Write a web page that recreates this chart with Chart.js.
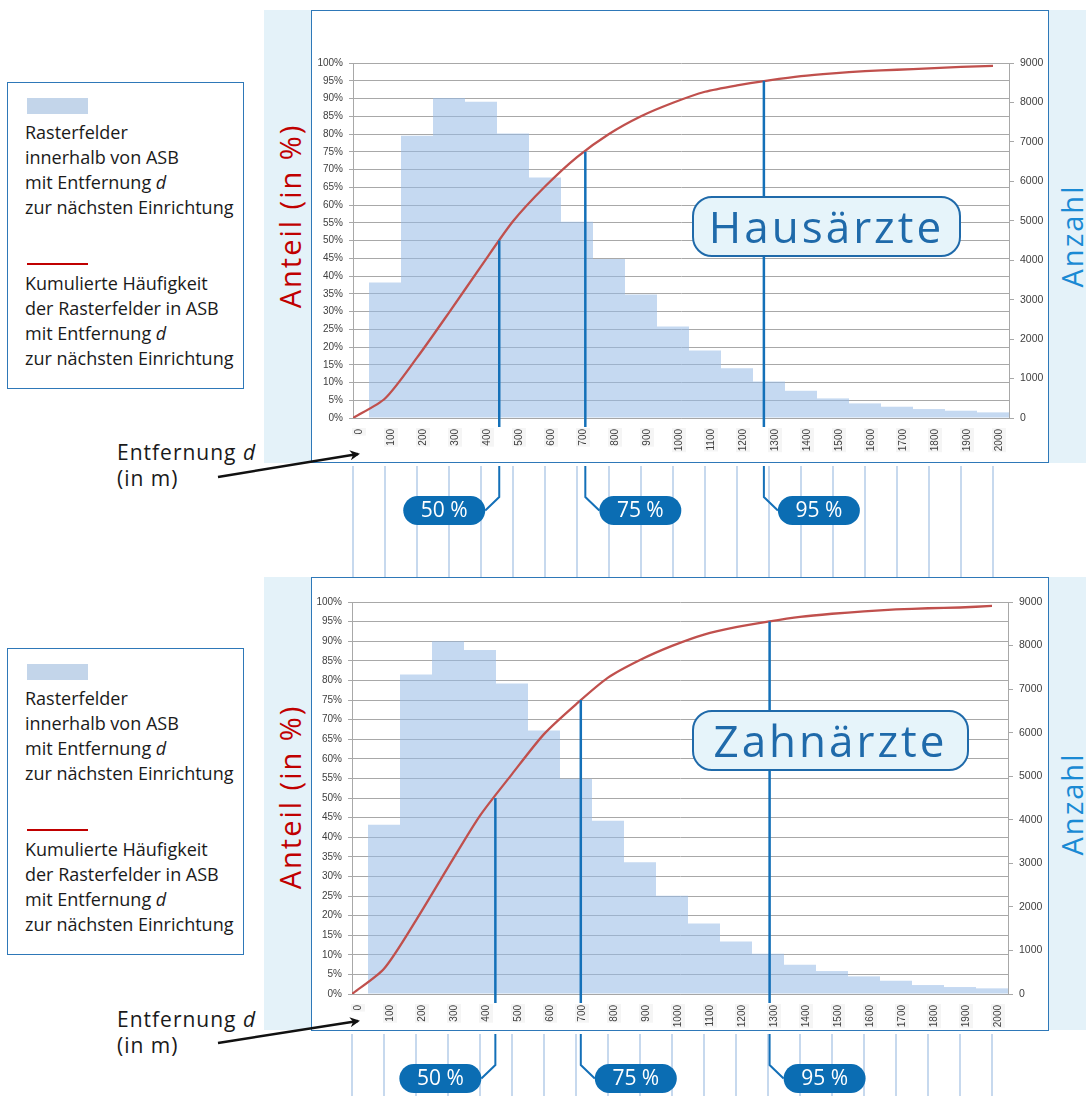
<!DOCTYPE html>
<html>
<head>
<meta charset="utf-8">
<script src="https://cdn.jsdelivr.net/npm/chart.js@4.4.1/dist/chart.umd.min.js"></script>
<style>
  body { margin: 0; width: 1086px; height: 1096px; position: relative; overflow: hidden; background: #fff; font-family: "Open Sans", sans-serif; }
  .band { position: absolute; background: #e4f2f9; }
  .frame { position: absolute; background: #fff; border: 1.5px solid #2e78b8; box-sizing: border-box; }
  .legend { position: absolute; left: 7px; width: 237px; height: 307px; border: 1px solid #2e78b8; box-sizing: border-box; color: #1a1a1a; }
  .legend .sw { position: absolute; left: 19px; width: 61px; height: 16px; background: #c3d5ea; }
  .legend .ln { position: absolute; left: 19px; width: 61px; height: 2px; background: #c00000; }
  .legend .txt { position: absolute; left: 17px; font-size: 18px; line-height: 25px; white-space: nowrap; }
  .vtitle { position: absolute; transform: translate(-50%, -50%) rotate(-90deg); white-space: nowrap; font-size: 29px; font-weight: 400; letter-spacing: 2px; }
  .tag { position: absolute; height: 61px; box-sizing: border-box; border: 2px solid #1f6aaa; border-radius: 20px; background: #e6f4fa; color: #1f6aaa; font-size: 44px; letter-spacing: 3px; text-align: center; line-height: 56px; }
  .dist { position: absolute; left: 117px; font-size: 21px; letter-spacing: 1px; line-height: 26px; color: #1a1a1a; }
  canvas { position: absolute; left: 0; }
  svg { position: absolute; left: 0; top: 0; }
</style>
</head>
<body>

<!-- top panel: Hausärzte -->
<div class="band" style="left:264px; top:10px; width:48px; height:453px"></div>
<div class="band" style="left:1048px; top:10px; width:38px; height:453px"></div>
<div class="frame" style="left:311px; top:10px; width:738px; height:453px"></div>
<div class="vtitle" style="left:289px; top:216px; color:#c00000">Anteil (in %)</div>
<div class="vtitle" style="left:1071px; top:236px; color:#1a8ad4">Anzahl</div>
<div class="legend" style="top:82px">
  <div class="sw" style="top:15px"></div>
  <div class="txt" style="top:37px">Rasterfelder<br>innerhalb von ASB<br>mit Entfernung <i>d</i><br>zur nächsten Einrichtung</div>
  <div class="ln" style="top:180px"></div>
  <div class="txt" style="top:188px">Kumulierte Häufigkeit<br>der Rasterfelder in ASB<br>mit Entfernung <i>d</i><br>zur nächsten Einrichtung</div>
</div>
<div class="dist" style="top:439px">Entfernung <i>d</i><br>(in m)</div>

<!-- bottom panel: Zahnärzte -->
<div class="band" style="left:264px; top:577px; width:48px; height:453px"></div>
<div class="band" style="left:1048px; top:577px; width:38px; height:453px"></div>
<div class="frame" style="left:311px; top:577px; width:738px; height:454px"></div>
<div class="vtitle" style="left:289px; top:797px; color:#c00000">Anteil (in %)</div>
<div class="vtitle" style="left:1071px; top:804px; color:#1a8ad4">Anzahl</div>
<div class="legend" style="top:648px">
  <div class="sw" style="top:15px"></div>
  <div class="txt" style="top:37px">Rasterfelder<br>innerhalb von ASB<br>mit Entfernung <i>d</i><br>zur nächsten Einrichtung</div>
  <div class="ln" style="top:180px"></div>
  <div class="txt" style="top:188px">Kumulierte Häufigkeit<br>der Rasterfelder in ASB<br>mit Entfernung <i>d</i><br>zur nächsten Einrichtung</div>
</div>
<div class="dist" style="top:1006px">Entfernung <i>d</i><br>(in m)</div>

<canvas id="chartHaus" width="1086" height="577" style="top:0"></canvas>
<canvas id="chartZahn" width="1086" height="519" style="top:577px"></canvas>

<div class="tag" style="left:692px; top:196px; width:269px; z-index:2">Hausärzte</div>
<div class="tag" style="left:692px; top:710px; width:277px; z-index:2">Zahnärzte</div>

<svg width="1086" height="1096" style="z-index:3">
  <defs>
    <marker id="head" markerWidth="10" markerHeight="10" refX="8" refY="5" orient="auto" markerUnits="userSpaceOnUse">
      <path d="M0,0 L10,5 L0,10 L3,5 z" fill="#111"/>
    </marker>
  </defs>
  <line x1="218" y1="477" x2="358" y2="454" stroke="#111" stroke-width="2.5" marker-end="url(#head)"/>
  <line x1="218" y1="1043" x2="358" y2="1021" stroke="#111" stroke-width="2.5" marker-end="url(#head)"/>
</svg>

<script>
// ---------------- DATA ----------------
// distance ticks (m), bins are 100 m wide and centred on 100..2000
const distances = [0, 100, 200, 300, 400, 500, 600, 700, 800, 900, 1000,
                   1100, 1200, 1300, 1400, 1500, 1600, 1700, 1800, 1900, 2000];
const binCenters = [100, 200, 300, 400, 500, 600, 700, 800, 900, 1000,
                    1100, 1200, 1300, 1400, 1500, 1600, 1700, 1800, 1900, 2000];

// Hausärzte
const hausCounts = [3436, 7157, 8115, 8015, 7215, 6095, 4975, 4033, 3132, 2320,
                    1710, 1263, 926, 690, 497, 370, 286, 227, 185, 143];
const hausCumPct = [0, 5.5, 17, 29.7, 42.7, 55.4, 65.2, 73.5, 80, 85, 88.8,
                    91.9, 93.7, 95.1, 96.3, 97.1, 97.7, 98.1, 98.5, 98.9, 99.2];
const hausQuantileDist = [457, 726, 1284];

// Zahnärzte
const zahnCounts = [3888, 7335, 8100, 7900, 7128, 6050, 4943, 3980, 3025, 2255,
                    1618, 1206, 924, 672, 527, 405, 305, 206, 160, 130];
const zahnCumPct = [0, 6.45, 18.8, 32.3, 45.5, 56.1, 66.3, 73.9, 80.7, 85.2, 88.8,
                    91.7, 93.6, 95.0, 96.2, 97.0, 97.6, 98.1, 98.4, 98.6, 99.0];
const zahnQuantileDist = [448, 715, 1305];

const quantilePct = [50, 75, 95];
const quantileLabels = ["50 %", "75 %", "95 %"];
const quantileSide = ["left", "right", "right"];

const BLUE = "#1470b8";

// ---------------- QUANTILE LINES + LABELS ----------------
const quantilePlugin = {
    id: "quantiles",
    afterDatasetsDraw(chart, args, opts) {
        const { ctx, chartArea } = chart;
        const xs = chart.scales.x, ys = chart.scales.y;
        ctx.save();
        ctx.strokeStyle = BLUE;
        ctx.lineWidth = 2.5;
        opts.dists.forEach((d, i) => {
            const px = xs.getPixelForValue(d);
            ctx.beginPath();
            ctx.moveTo(px, ys.getPixelForValue(quantilePct[i]));
            ctx.lineTo(px, chartArea.bottom + 9);
            ctx.stroke();
        });
        ctx.restore();
    },
    afterDraw(chart, args, opts) {
        const { ctx } = chart;
        const xs = chart.scales.x;
        const top = opts.frameBottom + 4;
        ctx.save();
        // light guide lines below the frame
        ctx.strokeStyle = "#c7d9ee";
        ctx.lineWidth = 2;
        distances.forEach(d => {
            const px = xs.getPixelForValue(d);
            ctx.beginPath();
            ctx.moveTo(px, top);
            ctx.lineTo(px, chart.height);
            ctx.stroke();
        });
        // connectors and pills
        opts.dists.forEach((d, i) => {
            const px = xs.getPixelForValue(d);
            const cy = top + 44.5;
            const w = 82, h = 29;
            const left = quantileSide[i] === "left";
            const edge = left ? px - 14 : px + 14;
            ctx.strokeStyle = BLUE;
            ctx.lineWidth = 2;
            ctx.beginPath();
            ctx.moveTo(px, top);
            ctx.lineTo(px, top + 31);
            ctx.lineTo(edge, cy);
            ctx.stroke();
            const x0 = left ? edge - w : edge;
            ctx.fillStyle = "#0b6db3";
            ctx.beginPath();
            ctx.roundRect(x0, cy - h / 2, w, h, h / 2);
            ctx.fill();
            ctx.fillStyle = "#fff";
            ctx.font = '21px "Open Sans", sans-serif';
            ctx.textAlign = "center";
            ctx.textBaseline = "middle";
            ctx.fillText(quantileLabels[i], x0 + w / 2, cy + 1);
        });
        ctx.restore();
    }
};

function makeChart(id, counts, cumPct, qDist, lay) {
    const ctx = document.getElementById(id).getContext("2d");
    return new Chart(ctx, {
        data: {
            datasets: [{
                type: "line",
                label: "Kumulierte Häufigkeit",
                data: distances.map((d, i) => ({ x: d, y: cumPct[i] })),
                yAxisID: "y",
                borderColor: "#c0504d",
                borderWidth: 2.3,
                pointRadius: 0,
                tension: 0.25,
                order: 1
            }, {
                type: "bar",
                label: "Rasterfelder",
                data: binCenters.map((d, i) => ({ x: d, y: counts[i] })),
                yAxisID: "y1",
                backgroundColor: "rgba(149,186,229,0.55)",
                borderWidth: 0,
                inflateAmount: 0,
                barPercentage: 1,
                categoryPercentage: 1,
                order: 2
            }]
        },
        options: {
            responsive: false,
            animation: false,
            layout: { padding: { left: lay.left, right: lay.right, top: lay.top, bottom: lay.bottom } },
            plugins: {
                legend: { display: false },
                tooltip: { enabled: false },
                quantiles: { dists: qDist, frameBottom: lay.frameBottom }
            },
            scales: {
                x: {
                    type: "linear",
                    min: 0,
                    max: 2050,
                    offset: false,
                    afterFit: s => { s.height = lay.xH; },
                    grid: { display: false, offset: false },
                    border: { display: true, color: "#a6a6a6" },
                    ticks: {
                        stepSize: 100,
                        includeBounds: false,
                        autoSkip: false,
                        minRotation: 90,
                        maxRotation: 90,
                        padding: 3,
                        color: "#404040",
                        font: { family: "Liberation Sans", size: 10 },
                        showLabelBackdrop: true,
                        backdropColor: "#f5f5f5",
                        backdropPadding: 1,
                        callback: v => String(v)
                    }
                },
                y: {
                    position: "left",
                    min: 0,
                    max: 100,
                    afterFit: s => { s.width = lay.yW; },
                    grid: { color: "#a8a8a8", tickLength: 4 },
                    border: { color: "#a8a8a8" },
                    ticks: {
                        stepSize: 5,
                        padding: 6,
                        color: "#404040",
                        font: { family: "Liberation Sans", size: 10 },
                        callback: v => v + "%"
                    }
                },
                y1: {
                    position: "right",
                    min: 0,
                    max: 9000,
                    afterFit: s => { s.width = lay.y1W; },
                    grid: { drawOnChartArea: false, color: "#a8a8a8", tickLength: 5 },
                    border: { color: "#a8a8a8" },
                    ticks: {
                        stepSize: 1000,
                        padding: 6,
                        color: "#404040",
                        font: { family: "Liberation Sans", size: 10.5 },
                        callback: v => String(v)
                    }
                }
            }
        },
        plugins: [quantilePlugin]
    });
}

makeChart("chartHaus", hausCounts, hausCumPct, hausQuantileDist,
    { left: 311, right: 38, top: 63, bottom: 115, yW: 42, y1W: 39, xH: 44, frameBottom: 462 });
makeChart("chartZahn", zahnCounts, zahnCumPct, zahnQuantileDist,
    { left: 311, right: 38, top: 25, bottom: 66, yW: 41, y1W: 40, xH: 36, frameBottom: 453 });
</script>
</body>
</html>
